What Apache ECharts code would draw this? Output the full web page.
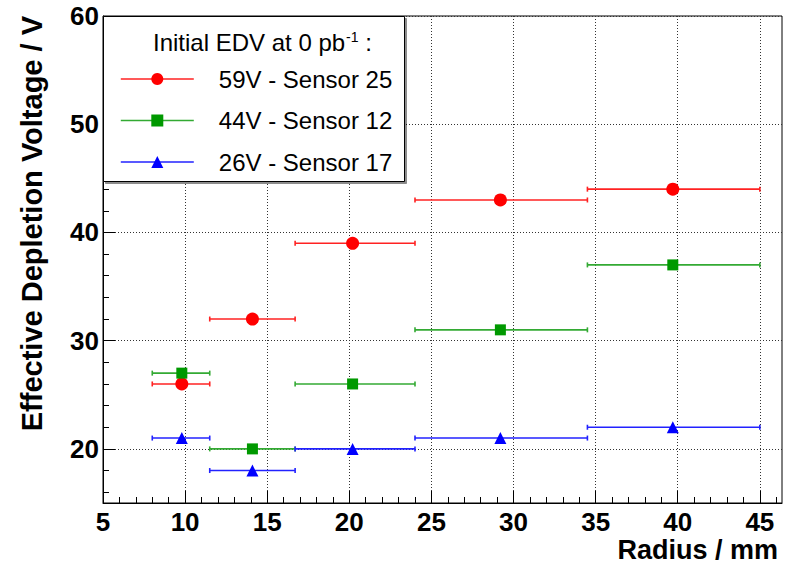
<!DOCTYPE html>
<html>
<head>
<meta charset="utf-8">
<script src="https://cdn.jsdelivr.net/npm/echarts@6/dist/echarts.min.js"></script>
<style>
html,body{margin:0;padding:0;background:#fff;}
#chart{width:799px;height:563px;}
</style>
</head>
<body>
<div id="chart"></div>
<script>
// ---- data ----
const radius      = [9.8, 14.1, 20.2, 29.2, 39.7];
const radiusLow   = [8.0, 11.5, 16.7, 24.0, 34.5];
const radiusHigh  = [11.5, 16.7, 24.0, 34.5, 45.0];
const edvSensor25 = [26, 32, 39, 43, 44];
const edvSensor12 = [27, 20, 26, 31, 37];
const edvSensor17 = [21, 18, 20, 21, 22];
const seriesNames = ['59V - Sensor 25', '44V - Sensor 12', '26V - Sensor 17'];
const legendHeader = 'Initial EDV at 0 pb';
// ---- tick labels ----
const xMajorTicks = [5, 10, 15, 20, 25, 30, 35, 40, 45];
const xMinorTicks = [6,7,8,9,11,12,13,14,16,17,18,19,21,22,23,24,26,27,28,29,31,32,33,34,36,37,38,39,41,42,43,44,46];
const yMajorTicks = [20, 30, 40, 50, 60];
const yMinorTicks = [16,18,22,24,26,28,32,34,36,38,42,44,46,48,52,54,56,58];
const xTitle = 'Radius / mm';
const yTitle = 'Effective Depletion Voltage / V';

const FONT = '"Liberation Sans", Arial, Helvetica, sans-serif';
const colors = ['#ff0000', '#009900', '#0000ff'];
const lineColors = ['#ff2222', '#33aa33', '#2222ff'];
const symbols = ['circle', 'rect', 'triangle'];
const symbolSizes = [13, 11, 12];
const values = [edvSensor25, edvSensor12, edvSensor17];

const chart = echarts.init(document.getElementById('chart'), null, {renderer: 'svg'});

const series = [];
values.forEach((vals, s) => {
  series.push({
    name: seriesNames[s] + ' err',
    type: 'custom',
    xAxisIndex: 0, yAxisIndex: 0,
    z: 3,
    silent: true,
    encode: {x: [0, 1], y: 2},
    data: vals.map((v, i) => [radiusLow[i], radiusHigh[i], v]),
    renderItem: function (params, api) {
      const a = api.coord([api.value(0), api.value(2)]);
      const b = api.coord([api.value(1), api.value(2)]);
      const st = {stroke: lineColors[s], lineWidth: 1.6};
      return {
        type: 'group',
        children: [
          {type: 'line', shape: {x1: a[0], y1: a[1], x2: b[0], y2: b[1]}, style: st},
          {type: 'line', shape: {x1: a[0], y1: a[1] - 2.5, x2: a[0], y2: a[1] + 2.5}, style: st},
          {type: 'line', shape: {x1: b[0], y1: b[1] - 2.5, x2: b[0], y2: b[1] + 2.5}, style: st}
        ]
      };
    }
  });
});
values.forEach((vals, s) => {
  series.push({
    name: seriesNames[s],
    type: 'line',
    xAxisIndex: 0, yAxisIndex: 0,
    z: 5,
    symbol: symbols[s],
    symbolSize: symbolSizes[s],
    showAllSymbol: true,
    lineStyle: {width: 0, opacity: 0, color: lineColors[s]},
    itemStyle: {color: colors[s]},
    emphasis: {disabled: true},
    data: vals.map((v, i) => [radius[i], v])
  });
});

const gridLine = {show: true, lineStyle: {color: '#333', width: 1, type: [1, 2]}};

chart.setOption({
  animation: false,
  backgroundColor: '#fff',
  textStyle: {fontFamily: FONT},
  grid: {left: 103, right: 17, top: 16, bottom: 60, show: true,
         borderColor: '#000', borderWidth: 1, backgroundColor: 'transparent', containLabel: false},
  title: {
    text: legendHeader + '{sup|-1}{n| :}',
    left: 148, top: 25, z: 300,
    textStyle: {fontFamily: FONT, fontSize: 24, fontWeight: 'normal', color: '#000',
      rich: {
        sup: {fontFamily: FONT, fontSize: 14, verticalAlign: 'top', padding: [0, 0, 10, 1], color: '#000'},
        n: {fontFamily: FONT, fontSize: 24, color: '#000'}
      }}
  },
  legend: {
    data: seriesNames,
    orient: 'vertical',
    left: 120, top: 67, padding: 0, z: 300,
    itemWidth: 73, itemHeight: 15, itemGap: 17.5,
    selectedMode: false,
    lineStyle: {width: 1.6, opacity: 1},
    textStyle: {fontFamily: FONT, fontSize: 24, color: '#000', lineHeight: 24, padding: [0, 0, 0, 20]}
  },
  graphic: [{
    type: 'rect', z: 250, left: 103, top: 16,
    shape: {width: 301, height: 165},
    style: {fill: '#fff', stroke: '#000', lineWidth: 1,
            shadowColor: 'rgba(0,0,0,0.45)', shadowOffsetX: 2, shadowOffsetY: 2, shadowBlur: 0}
  }],
  xAxis: [{
    type: 'value', min: 5, max: 46.35, position: 'bottom',
    axisLine: {show: true, onZero: false, lineStyle: {color: '#000', width: 1}},
    axisTick: {show: true, inside: true, length: 12, customValues: xMajorTicks, lineStyle: {color: '#000'}},
    axisLabel: {show: true, customValues: xMajorTicks, margin: 6, fontFamily: FONT, fontSize: 26, fontWeight: 'bold', color: '#000'},
    splitLine: gridLine,
    name: xTitle, nameLocation: 'end', nameGap: -4,
    nameTextStyle: {fontFamily: FONT, fontSize: 27, fontWeight: 'bold', color: '#000', align: 'right', verticalAlign: 'top', padding: [33, 0, 0, 0]}
  }, {
    type: 'value', min: 5, max: 46.35, position: 'bottom',
    axisLine: {show: false},
    axisTick: {show: true, inside: true, length: 6, customValues: xMinorTicks, lineStyle: {color: '#000'}},
    axisLabel: {show: false},
    splitLine: {show: false}
  }],
  yAxis: [{
    type: 'value', min: 15, max: 60, position: 'left',
    axisLine: {show: true, onZero: false, lineStyle: {color: '#000', width: 1}},
    axisTick: {show: true, inside: true, length: 12, customValues: yMajorTicks, lineStyle: {color: '#000'}},
    axisLabel: {show: true, customValues: yMajorTicks, margin: 4, fontFamily: FONT, fontSize: 26, fontWeight: 'bold', color: '#000'},
    splitLine: gridLine,
    name: yTitle, nameLocation: 'end', nameGap: 0, nameRotate: 90,
    nameTextStyle: {fontFamily: FONT, fontSize: 29, fontWeight: 'bold', color: '#000', align: 'right', verticalAlign: 'bottom', padding: [0, 0, 57, 0]}
  }, {
    type: 'value', min: 15, max: 60, position: 'left',
    axisLine: {show: false},
    axisTick: {show: true, inside: true, length: 6, customValues: yMinorTicks, lineStyle: {color: '#000'}},
    axisLabel: {show: false},
    splitLine: {show: false}
  }],
  series: series
});
</script>
</body>
</html>
